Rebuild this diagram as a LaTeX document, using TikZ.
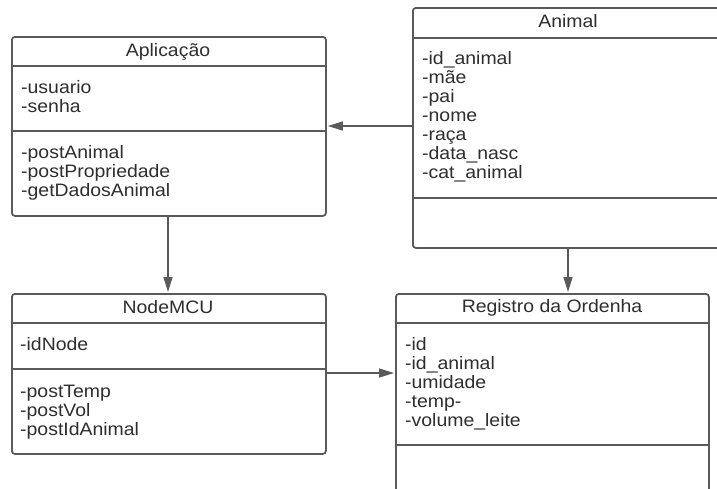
\documentclass[tikz,border=0pt]{standalone}
\usepackage{fontspec}
\setmainfont{Liberation Sans}[FakeStretch=1.08]
\usetikzlibrary{arrows.meta}

\definecolor{umlline}{HTML}{5A5A5A}
\definecolor{umltext}{HTML}{2E2E2E}

\tikzset{
  classbox/.style={draw=umlline, line width=1.8pt, rounded corners=3pt,
    fill=white, anchor=north west, inner sep=0pt},
  sepline/.style={draw=umlline, line width=1.8pt},
  classtitle/.style={anchor=base, inner sep=0pt, text=umltext,
    font=\fontsize{18}{19}\selectfont},
  members/.style={anchor=base west, inner sep=0pt, text=umltext,
    font=\fontsize{18}{19}\selectfont},
  assoc/.style={draw=umlline, line width=1.4pt,
    -{Triangle[length=15pt,width=9pt]}, shorten >=1pt},
}

\begin{document}
\begin{tikzpicture}[x=1pt, y=-1pt]
  \useasboundingbox (0,0) rectangle (717,488);

  % class Aplicação
  \node[classbox, minimum width=314pt, minimum height=179pt] (apl) at (11,36) {};
  \draw[sepline] (apl.west |- 0,66) -- (apl.east |- 0,66);
  \draw[sepline] (apl.west |- 0,131) -- (apl.east |- 0,131);
  \node[classtitle] (aplT) at (168,56) {Aplicação};
  \foreach \t [count=\i from 0] in {-usuario,-senha}
    \node[members] (aplA\i) at (21,{93+19*\i}) {\t};
  \foreach \t [count=\i from 0] in {-postAnimal,-postPropriedade,-getDadosAnimal}
    \node[members] (aplM\i) at (21,{158+19*\i}) {\t};

  % class Animal
  \node[classbox, minimum width=313pt, minimum height=240pt] (ani) at (412,7) {};
  \draw[sepline] (ani.west |- 0,38) -- (ani.east |- 0,38);
  \draw[sepline] (ani.west |- 0,198) -- (ani.east |- 0,198);
  \node[classtitle] (aniT) at (568,27) {Animal};
  \foreach \t [count=\i from 0] in {-id\_animal,-mãe,-pai,-nome,-raça,-data\_nasc,-cat\_animal}
    \node[members] (aniA\i) at (422,{64+19*\i}) {\t};

  % class NodeMCU
  \node[classbox, minimum width=314pt, minimum height=160pt] (mcu) at (11,293) {};
  \draw[sepline] (mcu.west |- 0,323) -- (mcu.east |- 0,323);
  \draw[sepline] (mcu.west |- 0,369) -- (mcu.east |- 0,369);
  \node[classtitle] (mcuT) at (168,313) {NodeMCU};
  \node[members] (mcuA0) at (20,350) {-idNode};
  \foreach \t [count=\i from 0] in {-postTemp,-postVol,-postIdAnimal}
    \node[members] (mcuM\i) at (20,{397+19*\i}) {\t};

  % class Registro da Ordenha
  \node[classbox, minimum width=313pt, minimum height=202pt] (reg) at (395,293) {};
  \draw[sepline] (reg.west |- 0,323) -- (reg.east |- 0,323);
  \draw[sepline] (reg.west |- 0,445) -- (reg.east |- 0,445);
  \node[classtitle] (regT) at (552,312) {Registro da Ordenha};
  \foreach \t [count=\i from 0] in {-id,-id\_animal,-umidade,-temp-,-volume\_leite}
    \node[members] (regA\i) at (405,{350+19*\i}) {\t};

  % associations
  \draw[assoc] (ani.west |- 0,126) -- (apl.east |- 0,126);
  \draw[assoc] (apl.south -| 168,0) -- (mcu.north -| 168,0);
  \draw[assoc] (ani.south -| 568,0) -- (reg.north -| 568,0);
  \draw[assoc] (mcu.east |- 0,373) -- (reg.west |- 0,373);
\end{tikzpicture}
\end{document}
